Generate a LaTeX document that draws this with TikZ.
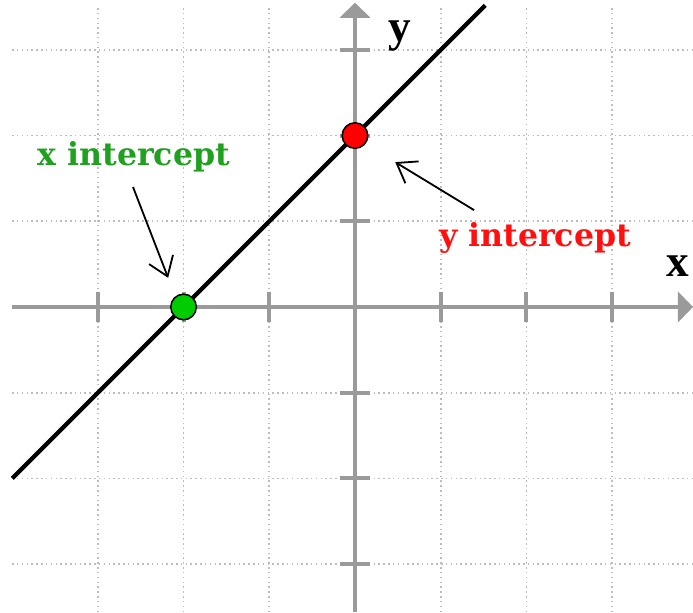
\documentclass[tikz,border=0pt]{standalone}
\usepackage{xcolor}
\usepackage{tikz}
\usepackage{fontspec}
\usetikzlibrary{arrows.meta,positioning,calc}
\newfontfamily\labelfont{DejaVu Serif}
\newfontfamily\axisfont{Liberation Serif}
\definecolor{gridgray}{HTML}{BDBDBD}
\definecolor{axisgray}{HTML}{9A9A9A}
\definecolor{xgreen}{HTML}{1FA01F}
\definecolor{dotgreen}{HTML}{00CC00}
\definecolor{yred}{HTML}{FF1010}

\begin{document}
\begin{tikzpicture}[
    gridline/.style={gridgray, line width=0.55pt, dash pattern=on 0.5pt off 1.1pt},
    axisline/.style={axisgray, line width=1.4pt, -{Triangle[length=5pt,width=10pt]}},
    tickline/.style={axisgray, line width=1.3pt},
    ptdot/.style={circle, draw=black, line width=0.5pt, inner sep=0pt, minimum size=8.5pt},
    pointer/.style={black, line width=0.6pt, -{Straight Barb[length=6pt,width=8.5pt]}},
    every node/.style={font=\labelfont\bfseries\fontsize{10.5}{12.5}\selectfont}
]
\useasboundingbox (-4.142,-3.559) rectangle (3.944,3.582);

% Dotted grid
\foreach \i in {-3,...,3} {
    \draw[gridline] (-4.0, \i) -- (3.944, \i);
    \draw[gridline] (\i, -3.559) -- (\i, 3.5);
}

% Axes with ticks
\draw[axisline] (-4.0, 0) -- (3.944, 0);
\draw[axisline] (0, -3.559) -- (0, 3.55);
\foreach \i in {-3,-2,-1,1,2,3} {
    \draw[tickline] (\i, -0.17) -- (\i, 0.17);
    \draw[tickline] (-0.18, \i) -- (0.18, \i);
}
\node[font=\axisfont\bfseries\fontsize{15}{17}\selectfont] (xaxis) at (3.77, 0.48) {x};
\node[font=\axisfont\bfseries\fontsize{15}{17}\selectfont] (yaxis) at (0.525, 3.16) {y};

% The line y = x + 2
\draw[black, line width=1.4pt] (-4.0, -2.0) -- (1.52, 3.52);

% Intercepts
\node[ptdot, fill=dotgreen] (xint) at (-2, 0) {};
\node[ptdot, fill=red] (yint) at (0, 2) {};

% Labels and pointers
\node[text=xgreen] (xlabel) at (-2.58, 1.75) {x intercept};
\node[text=yred] (ylabel) at (2.10, 0.80) {y intercept};
\coordinate (xtail) at (-2.59, 1.40);
\coordinate (xtip) at (-2.18, 0.34);
\coordinate (ytail) at (1.39, 1.13);
\coordinate (ytip) at (0.47, 1.69);
\draw[pointer] (xtail) -- (xtip);
\draw[pointer] (ytail) -- (ytip);

\end{tikzpicture}
\end{document}
